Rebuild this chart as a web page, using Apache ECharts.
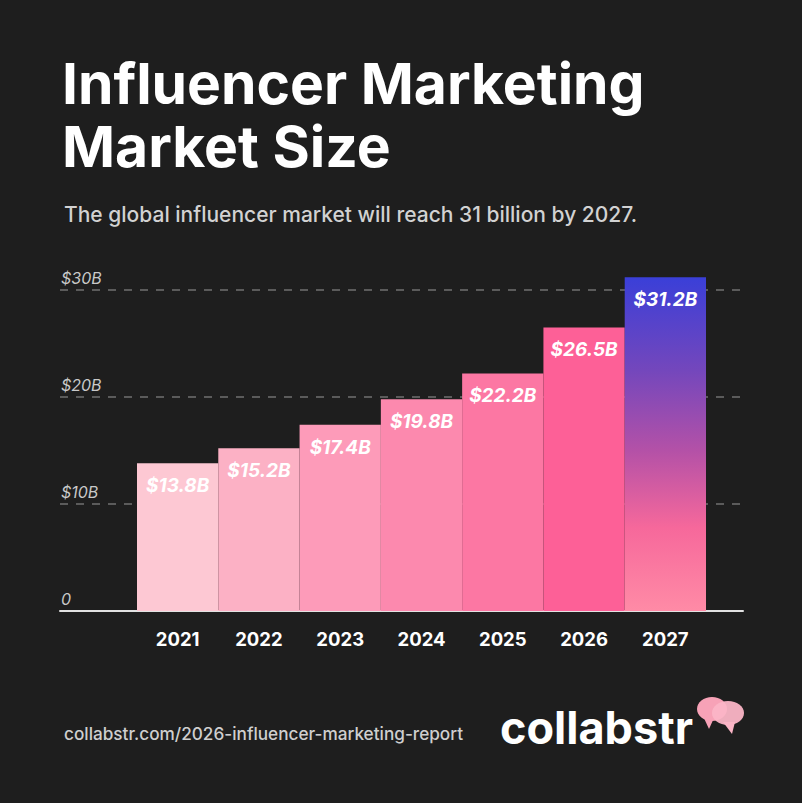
<!DOCTYPE html>
<html>
<head>
<meta charset="utf-8">
<script src="https://cdn.jsdelivr.net/npm/echarts@6/dist/echarts.min.js"></script>
<style>
  html, body { margin: 0; padding: 0; background: #1e1e1e; }
  #chart { width: 802px; height: 803px; }
</style>
</head>
<body>
<div id="chart"></div>
<script>
// data
var years = ['2021', '2022', '2023', '2024', '2025', '2026', '2027'];
var marketSize = [13.8, 15.2, 17.4, 19.8, 22.2, 26.5, 31.2];
var yMax = 30;
var yStep = 10;

var barColors = ['#fdc8d3', '#fcb1c5', '#fd9bb9', '#fc89ae', '#fc77a3', '#fd6097', null];
var lastBar = new echarts.graphic.LinearGradient(0, 0, 0, 1, [
    {offset: 0, color: '#3a3fd8'},
    {offset: 0.28, color: '#7447bc'},
    {offset: 0.52, color: '#b451a7'},
    {offset: 0.75, color: '#f6689b'},
    {offset: 1, color: '#ff8ba6'}
]);

var font = 'Inter, "Noto Sans", sans-serif';

var chart = echarts.init(document.getElementById('chart'), null, {renderer: 'svg'});
var option = {
    backgroundColor: '#1e1e1e',
    title: [
        {
            text: 'Influencer Marketing',
            left: 57,
            top: 48,
            textStyle: {color: '#ffffff', fontFamily: font, fontWeight: 700, fontSize: 57, lineHeight: 60}
        },
        {
            text: 'Market Size',
            left: 57,
            top: 111,
            textStyle: {color: '#ffffff', fontFamily: font, fontWeight: 700, fontSize: 57, lineHeight: 60}
        },
        {
            text: 'The global influencer market will reach 31 billion by 2027.',
            left: 59,
            top: 199,
            textStyle: {color: '#d2d2d2', fontFamily: font, fontWeight: 500, fontSize: 21}
        },
        {
            text: 'collabstr.com/2026-influencer-marketing-report',
            left: 59,
            top: 720,
            textStyle: {color: '#cfcfcf', fontFamily: font, fontWeight: 500, fontSize: 17.2}
        },
        {
            text: 'collabstr',
            left: 495,
            top: 700,
            textStyle: {color: '#ffffff', fontFamily: font, fontWeight: 700, fontSize: 45}
        }
    ],
    graphic: [
        // speech bubbles of the logo
        {type: 'polygon', shape: {points: [[703, 716], [714, 718], [709, 729]]}, style: {fill: '#f7a2b7'}},
        {type: 'ellipse', shape: {cx: 712, cy: 709, rx: 15, ry: 12}, style: {fill: '#f7a2b7'}},
        {type: 'polygon', shape: {points: [[723, 722], [735, 722], [732, 734]]}, style: {fill: '#fbb5c6'}},
        {type: 'ellipse', shape: {cx: 728, cy: 713, rx: 16, ry: 12}, style: {fill: '#fbb5c6', opacity: 0.95}}
    ],
    grid: [
        {left: 60, right: 59, top: 290, bottom: 192, outerBoundsMode: 'none'},
        {left: 137, right: 96, top: 290, bottom: 192, outerBoundsMode: 'none'}
    ],
    xAxis: [
        {
            type: 'value',
            gridIndex: 0,
            min: 0,
            max: 1,
            axisLine: {show: true, onZero: false, lineStyle: {color: '#e2e2e2', width: 2}},
            axisTick: {show: false},
            axisLabel: {show: false},
            splitLine: {show: false}
        },
        {
            type: 'category',
            gridIndex: 1,
            data: years,
            axisLine: {show: false},
            axisTick: {show: false},
            axisLabel: {color: '#ffffff', fontFamily: font, fontWeight: 700, fontSize: 18.5, margin: 18}
        }
    ],
    yAxis: [
        {
            type: 'value',
            gridIndex: 0,
            min: 0,
            max: yMax,
            interval: yStep,
            axisLine: {show: false},
            axisTick: {show: false},
            axisLabel: {
                inside: true,
                margin: 1,
                align: 'left',
                verticalAlign: 'bottom',
                padding: [0, 0, 4, 0],
                color: '#c9c9c9',
                fontFamily: font,
                fontStyle: 'italic',
                fontSize: 16,
                formatter: function (v) { return v === 0 ? '0' : '$' + v + 'B'; }
            },
            splitLine: {
                show: true,
                lineStyle: {color: '#707070', width: 1.5, type: [8, 8]}
            }
        },
        {
            type: 'value',
            gridIndex: 1,
            min: 0,
            max: yMax,
            interval: yStep,
            show: false,
            splitLine: {show: false}
        }
    ],
    series: [
        {
            type: 'bar',
            xAxisIndex: 1,
            yAxisIndex: 1,
            barCategoryGap: '0%',
            clip: false,
            data: marketSize.map(function (v, i) {
                return {value: v, itemStyle: {color: barColors[i] || lastBar}};
            }),
            label: {
                show: true,
                position: 'insideTop',
                distance: 13,
                color: '#ffffff',
                fontFamily: font,
                fontStyle: 'italic',
                fontWeight: 700,
                fontSize: 19,
                formatter: function (p) { return '$' + p.value + 'B'; }
            }
        }
    ]
};
chart.setOption(option);
</script>
</body>
</html>
